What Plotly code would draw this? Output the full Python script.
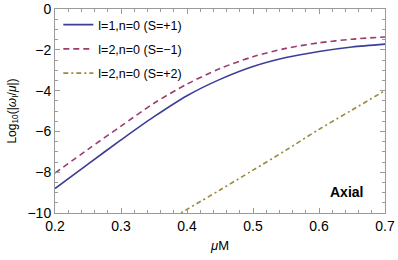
import plotly.graph_objects as go

x_vals = [0.2, 0.25, 0.3, 0.35, 0.4, 0.45, 0.5, 0.55, 0.6, 0.65, 0.7]
s1_vals = [-8.8, -7.6, -6.42, -5.28, -4.25, -3.45, -2.82, -2.38, -2.08, -1.86, -1.72]
sm1_vals = [-8.04, -6.88, -5.74, -4.62, -3.68, -2.92, -2.34, -1.93, -1.66, -1.48, -1.37]
x2_vals = [0.38, 0.45, 0.5, 0.55, 0.6, 0.65, 0.7]
s2_vals = [-10.2, -8.87, -7.9, -6.92, -5.9, -4.95, -4.0]

names = ["l=1,n=0 (S=+1)", "l=2,n=0 (S=\u22121)", "l=2,n=0 (S=+2)"]
colors = ["#3d3d99", "#993d71", "#998b3d"]

FONT = "Liberation Sans, Arial, sans-serif"

fig = go.Figure()
fig.add_trace(go.Scatter(x=x_vals, y=s1_vals, mode="lines", name=names[0], legendgroup="a",
                         line=dict(color=colors[0], width=1.6, shape="spline", smoothing=0.8)))
fig.add_trace(go.Scatter(x=x_vals, y=sm1_vals, mode="lines", name=names[1], legendgroup="b",
                         line=dict(color=colors[1], width=1.6, dash="6px,4px", shape="spline", smoothing=0.8)))
fig.add_trace(go.Scatter(x=x2_vals, y=s2_vals, mode="lines", name=names[2], legendgroup="c",
                         line=dict(color=colors[2], width=1.6, dash="5px,3px,2px,3px", shape="spline", smoothing=0.8)))

axis_common = dict(showline=True, linecolor="#9a9a9a", linewidth=1, mirror="ticks",
                   ticks="inside", ticklen=5, tickcolor="#9a9a9a", tickwidth=1,
                   showgrid=False, zeroline=False, automargin=False,
                   tickfont=dict(family=FONT, size=14, color="black"))

fig.update_xaxes(range=[0.2, 0.7], dtick=0.1, tick0=0.2, tickformat=".1f",
                 minor=dict(dtick=0.02, ticks="inside", ticklen=3, tickcolor="#9a9a9a", showgrid=False),
                 title=dict(text="<i>\u03bc</i>M", font=dict(family=FONT, size=13, color="black"), standoff=8),
                 **axis_common)
fig.update_yaxes(range=[-10, 0], dtick=2, tick0=0,
                 minor=dict(dtick=0.5, ticks="inside", ticklen=3, tickcolor="#9a9a9a", showgrid=False),
                 title=dict(text="Log<sub>10</sub>(|<i>\u03c9</i><sub>I</sub>/<i>\u03bc</i>|)",
                            font=dict(family=FONT, size=12, color="black"), standoff=8),
                 **axis_common)

fig.add_annotation(x=0.642, y=-8.97, text="<b>Axial</b>", showarrow=False,
                   font=dict(family=FONT, size=14, color="black"))

fig.update_layout(width=398, height=260, margin=dict(l=55, r=13, t=9, b=47, autoexpand=False),
                  plot_bgcolor="white", paper_bgcolor="white",
                  legend=dict(x=0.01, y=0.995, xanchor="left", yanchor="top",
                              bgcolor="rgba(0,0,0,0)", tracegroupgap=5,
                              font=dict(family=FONT, size=12.5, color="black")),
                  font=dict(family=FONT))

fig.write_html("out.html", config={"displayModeBar": False},
               post_script="document.body.style.margin='0';")
